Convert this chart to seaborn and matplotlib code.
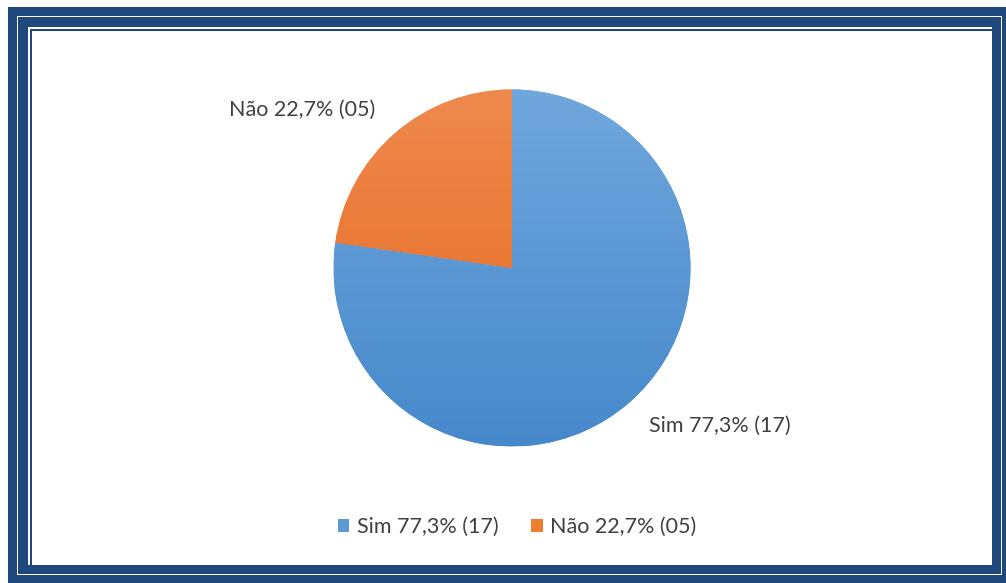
import matplotlib
matplotlib.use("Agg")
import matplotlib.pyplot as plt
import seaborn as sns
import numpy as np
from matplotlib.patches import Rectangle
from matplotlib.colors import LinearSegmentedColormap

sns.set_theme(style="white")
plt.rcParams['font.family'] = ['Lato', 'DejaVu Sans']

categories = ["Sim", "Não"]
values = [17, 5]
percent_labels = ["77,3%", "22,7%"]
counts_labels = ["(17)", "(05)"]
colors = ["#5B9BD5", "#ED7D31"]
grad_top = ["#70A7DD", "#EF8A4F"]
grad_bottom = ["#4689CB", "#E5661A"]

W, H = 1006, 583
fig = plt.figure(figsize=(W / 100, H / 100), dpi=100)
fig.patch.set_facecolor("white")

def rect(x0, y0, x1, y1, color):
    fig.add_artist(Rectangle((x0 / W, 1 - y1 / H), (x1 - x0) / W, (y1 - y0) / H,
                             transform=fig.transFigure, facecolor=color,
                             edgecolor="none", zorder=0))

navy = "#1F497D"
rect(8, 7, 1006, 583, navy)
rect(17, 16, 1002, 575, "white")
rect(18, 17, 1001, 574, navy)
rect(28, 27, 992, 565, "white")
rect(30, 29, 992, 565, navy)
rect(32, 31, 992, 565, "white")

labels = [f"{c} {p} {n}" for c, p, n in zip(categories, percent_labels, counts_labels)]

cx, cy, r = 512, 268, 178.5
lim = 1.02
R = r * lim
ax = fig.add_axes([(cx - R) / W, 1 - (cy + R) / H, 2 * R / W, 2 * R / H])
ax.set_zorder(2)
wedges, texts = ax.pie(values, labels=labels, colors=colors, startangle=90,
                       counterclock=False, labeldistance=1.17,
                       wedgeprops=dict(linewidth=0),
                       textprops=dict(fontsize=15.5, color="#404040"))
grad = np.linspace(0, 1, 256).reshape(-1, 1)
for w, top, bot in zip(wedges, grad_top, grad_bottom):
    cmap = LinearSegmentedColormap.from_list("g", [bot, top])
    im = ax.imshow(grad, cmap=cmap, extent=[-1, 1, -1, 1], origin="lower",
                   aspect="auto", zorder=w.get_zorder() + 0.1)
    im.set_clip_path(w)
ax.set_aspect("equal")
ax.set_xlim(-lim, lim)
ax.set_ylim(-lim, lim)
ax.axis("off")

leg = fig.legend(wedges, labels, loc="center", bbox_to_anchor=(517 / W, 1 - 527 / H),
                 ncol=2, frameon=False, fontsize=15.5, handlelength=0.55,
                 handleheight=0.55, handletextpad=0.35, columnspacing=1.5)
for t in leg.get_texts():
    t.set_color("#404040")

fig.savefig("out.png", dpi=100, facecolor="white")
